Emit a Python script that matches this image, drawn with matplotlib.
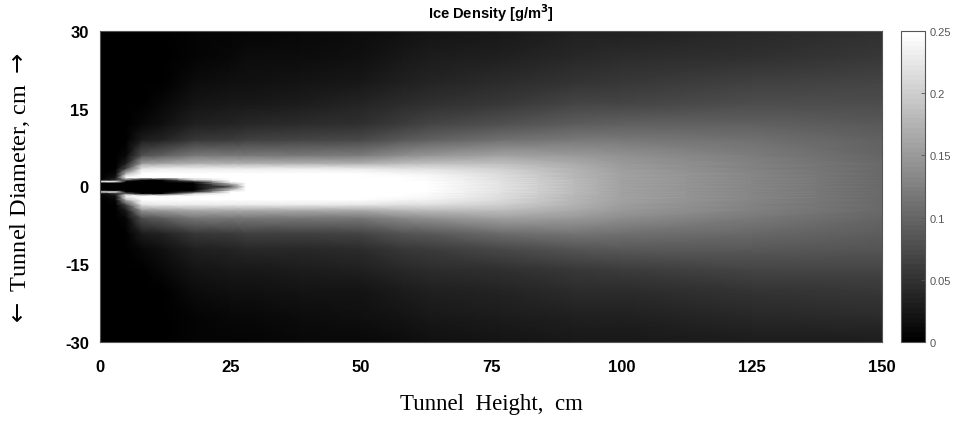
import numpy as np
import matplotlib
matplotlib.use("Agg")
import matplotlib.pyplot as plt
from matplotlib.colors import ListedColormap

plt.rcParams["axes.unicode_minus"] = False

# ---- data (ice density, g/m^3) ----
x_cm = [0, 3, 5, 8, 12, 18, 25, 28, 38, 50, 58, 63, 77, 91, 100, 125, 150]
# distances from the axis (cm) at which each profile was read
y_dist = [0, 0.7, 1, 1.3, 1.75, 2.5, 3.5, 4.5, 6, 9, 12, 16, 20, 25, 30]

# upper half (y >= 0) of each profile, one list per x station
top_x0   = [0, 0, 0.30, 0, 0, 0, 0, 0, 0, 0, 0, 0, 0, 0, 0]
top_x3   = [0, 0, 0.30, 0.05, 0.02, 0.01, 0, 0, 0, 0, 0, 0, 0, 0, 0]
top_x5   = [0, 0, 0, 0.10, 0.30, 0.18, 0.07, 0.03, 0.01, 0, 0, 0, 0, 0, 0]
top_x8   = [0, 0, 0, 0, 0.30, 0.30, 0.22, 0.15, 0.08, 0.03, 0.01, 0.003, 0, 0, 0]
top_x12  = [0, 0, 0, 0, 0.30, 0.30, 0.23, 0.16, 0.095, 0.038, 0.017, 0.008, 0.003, 0.001, 0]
top_x18  = [0, 0, 0.05, 0.20, 0.30, 0.30, 0.23, 0.17, 0.12, 0.058, 0.034, 0.020, 0.013, 0.007, 0.004]
top_x25  = [0.08, 0.20, 0.30, 0.30, 0.30, 0.30, 0.23, 0.17, 0.12, 0.062, 0.039, 0.025, 0.017, 0.010, 0.006]
top_x28  = [0.30, 0.30, 0.30, 0.30, 0.30, 0.30, 0.23, 0.17, 0.12, 0.064, 0.041, 0.027, 0.019, 0.012, 0.007]
top_x38  = [0.30, 0.30, 0.30, 0.30, 0.30, 0.30, 0.23, 0.17, 0.12, 0.068, 0.044, 0.031, 0.023, 0.015, 0.010]
top_x50  = [0.30, 0.30, 0.30, 0.30, 0.30, 0.28, 0.225, 0.17, 0.122, 0.073, 0.050, 0.036, 0.027, 0.019, 0.013]
top_x58  = [0.27, 0.267, 0.265, 0.26, 0.25, 0.24, 0.215, 0.18, 0.138, 0.088, 0.062, 0.045, 0.034, 0.025, 0.019]
top_x63  = [0.25, 0.249, 0.248, 0.246, 0.243, 0.235, 0.215, 0.185, 0.145, 0.094, 0.068, 0.050, 0.038, 0.029, 0.022]
top_x77  = [0.22, 0.22, 0.219, 0.218, 0.217, 0.213, 0.203, 0.185, 0.160, 0.112, 0.080, 0.058, 0.045, 0.035, 0.027]
top_x91  = [0.18, 0.18, 0.18, 0.18, 0.179, 0.177, 0.172, 0.165, 0.152, 0.120, 0.092, 0.067, 0.054, 0.042, 0.032]
top_x100 = [0.16, 0.16, 0.16, 0.16, 0.159, 0.158, 0.155, 0.15, 0.141, 0.118, 0.094, 0.070, 0.056, 0.044, 0.034]
top_x125 = [0.13, 0.13, 0.13, 0.13, 0.13, 0.129, 0.128, 0.126, 0.122, 0.110, 0.094, 0.076, 0.063, 0.050, 0.040]
top_x150 = [0.105, 0.105, 0.105, 0.105, 0.105, 0.105, 0.104, 0.103, 0.101, 0.096, 0.089, 0.078, 0.067, 0.055, 0.047]

# lower half (y < 0), same distances from the axis without the 0 point
bot_x0   = [0, 0.30, 0, 0, 0, 0, 0, 0, 0, 0, 0, 0, 0, 0]
bot_x3   = [0, 0.30, 0.05, 0.02, 0.01, 0, 0, 0, 0, 0, 0, 0, 0, 0]
bot_x5   = [0, 0, 0.10, 0.30, 0.18, 0.07, 0.03, 0.01, 0, 0, 0, 0, 0, 0]
bot_x8   = [0, 0, 0, 0.30, 0.30, 0.22, 0.15, 0.08, 0.03, 0.01, 0.003, 0, 0, 0]
bot_x12  = [0, 0, 0, 0.30, 0.30, 0.23, 0.16, 0.095, 0.038, 0.017, 0.008, 0.003, 0.001, 0]
bot_x18  = [0, 0.05, 0.20, 0.30, 0.30, 0.23, 0.17, 0.12, 0.058, 0.034, 0.020, 0.013, 0.007, 0.004]
bot_x25  = [0.20, 0.30, 0.30, 0.30, 0.30, 0.23, 0.17, 0.12, 0.062, 0.039, 0.025, 0.017, 0.010, 0.006]
bot_x28  = [0.30, 0.30, 0.30, 0.30, 0.30, 0.23, 0.17, 0.12, 0.063, 0.040, 0.026, 0.018, 0.011, 0.006]
bot_x38  = [0.30, 0.30, 0.30, 0.30, 0.30, 0.23, 0.17, 0.118, 0.065, 0.041, 0.028, 0.020, 0.013, 0.008]
bot_x50  = [0.30, 0.30, 0.30, 0.30, 0.28, 0.225, 0.17, 0.12, 0.069, 0.045, 0.032, 0.023, 0.016, 0.010]
bot_x58  = [0.267, 0.265, 0.26, 0.25, 0.24, 0.215, 0.18, 0.135, 0.083, 0.057, 0.040, 0.029, 0.021, 0.015]
bot_x63  = [0.249, 0.248, 0.246, 0.243, 0.235, 0.215, 0.185, 0.142, 0.089, 0.062, 0.044, 0.032, 0.024, 0.017]
bot_x77  = [0.22, 0.219, 0.218, 0.217, 0.213, 0.203, 0.185, 0.157, 0.106, 0.074, 0.050, 0.038, 0.028, 0.021]
bot_x91  = [0.18, 0.18, 0.18, 0.179, 0.177, 0.172, 0.165, 0.150, 0.115, 0.085, 0.058, 0.045, 0.033, 0.025]
bot_x100 = [0.16, 0.16, 0.16, 0.159, 0.158, 0.155, 0.15, 0.139, 0.113, 0.086, 0.060, 0.046, 0.035, 0.027]
bot_x125 = [0.13, 0.13, 0.13, 0.13, 0.129, 0.128, 0.126, 0.12, 0.105, 0.087, 0.067, 0.053, 0.040, 0.031]
bot_x150 = [0.105, 0.105, 0.105, 0.105, 0.105, 0.104, 0.103, 0.10, 0.093, 0.084, 0.070, 0.058, 0.043, 0.030]

tops = [top_x0, top_x3, top_x5, top_x8, top_x12, top_x18, top_x25, top_x28,
        top_x38, top_x50, top_x58, top_x63, top_x77, top_x91, top_x100,
        top_x125, top_x150]
bots = [bot_x0, bot_x3, bot_x5, bot_x8, bot_x12, bot_x18, bot_x25, bot_x28,
        bot_x38, bot_x50, bot_x58, bot_x63, bot_x77, bot_x91, bot_x100,
        bot_x125, bot_x150]

cbar_ticks = [0, 0.05, 0.1, 0.15, 0.2, 0.25]
cbar_labels = ["0", "0.05", "0.1", "0.15", "0.2", "0.25"]
x_ticks = [0, 25, 50, 75, 100, 125, 150]
y_ticks = [-30, -15, 0, 15, 30]

# ---- assemble the grid ----
y_cm = [-d for d in y_dist[:0:-1]] + list(y_dist)
columns = [b[::-1] + t for t, b in zip(tops, bots)]
Z = np.array(columns, dtype=float).T
X, Y = np.meshgrid(np.array(x_cm, float), np.array(y_cm, float))

# ---- figure ----
fig = plt.figure(figsize=(9.6, 4.35), dpi=100)
ax = fig.add_axes([100 / 960, 1 - 343 / 435, 782 / 960, 311 / 435])
cax = fig.add_axes([901 / 960, 1 - 343 / 435, 24 / 960, 311 / 435])

cmap = ListedColormap(plt.cm.gray(np.linspace(0, 1, 64)))
mesh = ax.pcolormesh(X, Y, Z, shading="gouraud", cmap=cmap, vmin=0, vmax=0.25)

ax.set_xlim(0, 150)
ax.set_ylim(-30, 30)
ax.set_xticks(x_ticks)
ax.set_yticks(y_ticks)
ax.tick_params(length=0)
ax.tick_params(axis="y", pad=8)
ax.tick_params(axis="x", pad=12)
for lab in ax.get_xticklabels() + ax.get_yticklabels():
    lab.set_fontfamily("Liberation Sans")
    lab.set_fontweight("bold")
    lab.set_fontsize(12)
for s in ax.spines.values():
    s.set_color("#555555")
    s.set_linewidth(0.8)

ax.set_title("Ice Density [g/m$^\\mathbf{3}$]", fontsize=10.5, fontweight="bold",
             family="Liberation Sans", pad=9)
ax.set_xlabel("Tunnel  Height,  cm", family="Liberation Serif", fontsize=16.5,
              labelpad=14)
fig.text(20 / 960, 1 - 190 / 435, "$\\leftarrow$ Tunnel Diameter, cm $\\rightarrow$",
         family="Liberation Serif", fontsize=17.5, rotation=90,
         ha="center", va="center")

cb = fig.colorbar(mesh, cax=cax, ticks=cbar_ticks)
cb.ax.set_yticklabels(cbar_labels)
cb.ax.tick_params(labelsize=8, colors="#555555", length=3, width=0.6, direction="in")
for lab in cb.ax.get_yticklabels():
    lab.set_color("#555555")
    lab.set_family("Liberation Sans")
cb.outline.set_edgecolor("#555555")
cb.outline.set_linewidth(0.8)

fig.savefig("out.png", dpi=100)
